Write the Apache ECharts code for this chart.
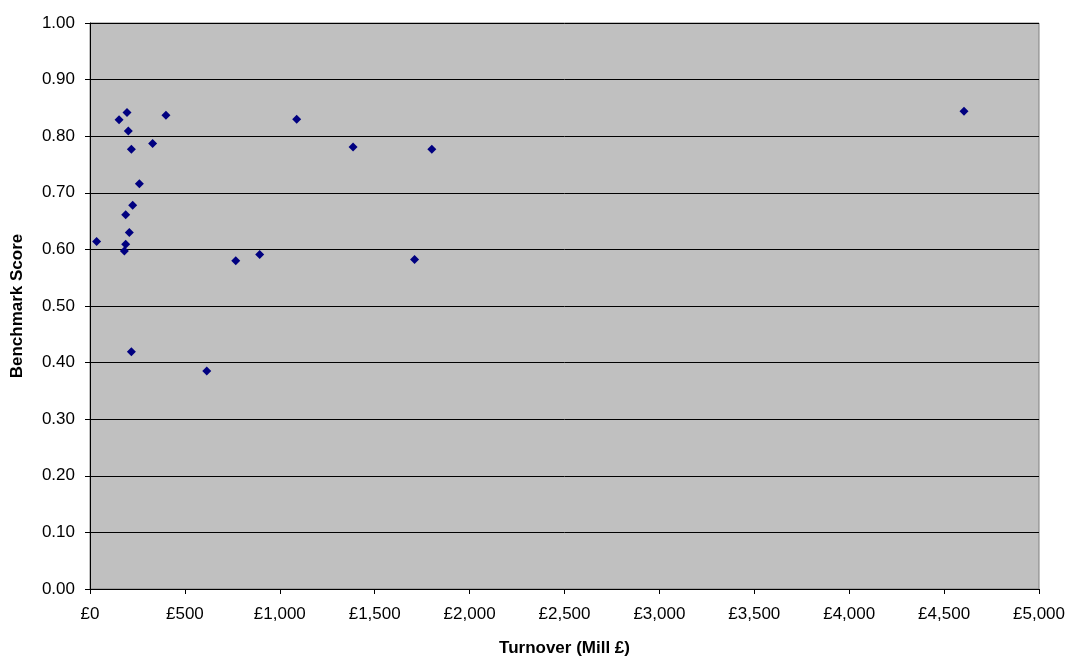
<!DOCTYPE html>
<html><head><meta charset="utf-8">
<script src="https://cdn.jsdelivr.net/npm/echarts@6/dist/echarts.min.js"></script>
<style>html,body{margin:0;padding:0;background:#fff}#c{width:1070px;height:657px}</style>
</head><body><div id="c"></div>
<script>
const turnover = [35, 153, 195, 400, 202, 330, 218, 260, 225, 188, 207, 188, 181, 768, 894, 218, 615, 1089, 1386, 1801, 1710, 4605];
const score    = [0.614, 0.829, 0.842, 0.837, 0.809, 0.787, 0.777, 0.716, 0.678, 0.661, 0.630, 0.609, 0.597, 0.580, 0.591, 0.419, 0.385, 0.830, 0.781, 0.777, 0.582, 0.844];
const xName = 'Turnover (Mill £)';
const yName = 'Benchmark Score';

const pts = turnover.map((t, i) => [t, score[i]]);
const font = 'Liberation Sans, Arial, sans-serif';
const chart = echarts.init(document.getElementById('c'), null, {renderer: 'canvas'});
chart.setOption({
  animation: false,
  grid: {left: 90, right: 31, top: 23, bottom: 68, show: true, containLabel: false, outerBoundsMode: 'none',
    backgroundColor: '#C0C0C0', borderColor: '#808080', borderWidth: 1},
  xAxis: {
    type: 'value', min: 0, max: 5000, interval: 500,
    name: xName, nameLocation: 'middle', nameGap: 51,
    nameTextStyle: {fontFamily: font, fontSize: 17, fontWeight: 'bold', color: '#000'},
    axisLine: {show: true, lineStyle: {color: '#000', width: 1}},
    axisTick: {show: true, length: 5, lineStyle: {color: '#000'}},
    axisLabel: {fontFamily: font, fontSize: 17, color: '#000', margin: 17,
      formatter: v => '£' + v.toLocaleString('en-GB')},
    splitLine: {show: false}
  },
  yAxis: {
    type: 'value', min: 0, max: 1, interval: 0.1,
    name: yName, nameLocation: 'middle', nameGap: 64, nameRotate: 90,
    nameTextStyle: {fontFamily: font, fontSize: 17, fontWeight: 'bold', color: '#000'},
    axisLine: {show: true, lineStyle: {color: '#000', width: 1}},
    axisTick: {show: true, length: 5, lineStyle: {color: '#000'}},
    axisLabel: {fontFamily: font, fontSize: 17, color: '#000', margin: 15,
      formatter: v => v.toFixed(2)},
    splitLine: {show: true, lineStyle: {color: '#000', width: 1}}
  },
  series: [{
    type: 'scatter', data: pts, symbol: 'diamond', symbolSize: 9,
    itemStyle: {color: '#000080', opacity: 1}
  }]
});
</script></body></html>
